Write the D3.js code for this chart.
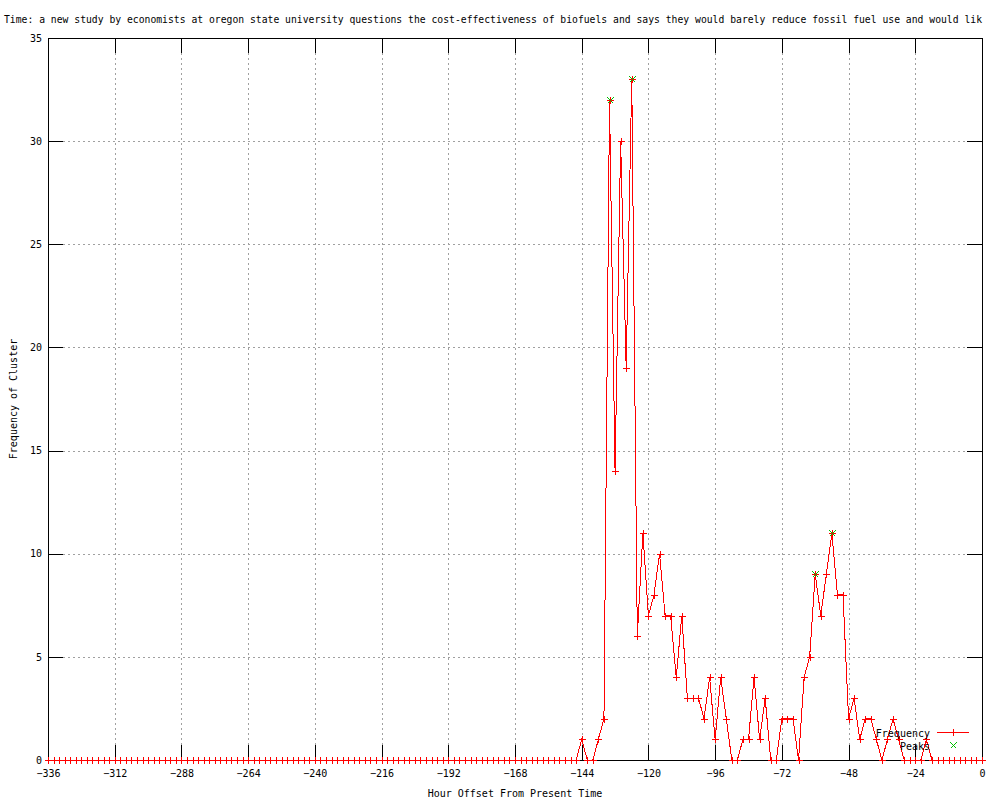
<!DOCTYPE html>
<html>
<head>
<meta charset="utf-8">
<script src="https://cdn.jsdelivr.net/npm/d3@7"></script>
<style>
  html, body { margin: 0; padding: 0; background: #fff; }
  svg { display: block; font-family: "DejaVu Sans Mono", "Liberation Mono", monospace; }
  text { font-size: 10px; fill: #000; }
</style>
</head>
<body>
<svg id="chart" width="1000" height="800"></svg>
<script>
// ---------------- data ----------------
const titleText = "Time: a new study by economists at oregon state university questions the cost-effectiveness of biofuels and says they would barely reduce fossil fuel use and would lik";
const xLabel = "Hour Offset From Present Time";
const yLabel = "Frequency of Cluster";

// hours: every 2 hours from -336 to 0
const hours = d3.range(-336, 1, 2);
const frequency = [
  // -336 .. -146 (96 points)
  0,0,0,0,0,0,0,0,0,0,0,0,0,0,0,0,0,0,0,0,0,0,0,0,
  0,0,0,0,0,0,0,0,0,0,0,0,0,0,0,0,0,0,0,0,0,0,0,0,
  0,0,0,0,0,0,0,0,0,0,0,0,0,0,0,0,0,0,0,0,0,0,0,0,
  0,0,0,0,0,0,0,0,0,0,0,0,0,0,0,0,0,0,0,0,0,0,0,0,
  // -144 .. 0
  1,0,0,1,2,32,14,30,19,33,
  6,11,7,8,10,7,7,4,7,3,
  3,3,2,4,1,4,2,0,0,1,
  1,4,1,3,0,0,2,2,2,0,
  4,5,9,7,9,11,8,8,2,3,
  1,2,2,1,0,1,2,1,0,0,
  0,0,1,0,0,0,0,0,0,0,
  0,0,0
];
const peakHours  = [-134, -126, -60, -54];
const peakValues = [32, 33, 9, 11];

const xTicks = [-336,-312,-288,-264,-240,-216,-192,-168,-144,-120,-96,-72,-48,-24,0];
const yTicks = [0,5,10,15,20,25,30,35];

const seriesNames = ["Frequency", "Peaks"];
const red = "#ff0000", green = "#00c000";

// ---------------- layout ----------------
const L = 48, R = 982, T = 38, B = 760;
const svg = d3.select("#chart");

const x = d3.scaleLinear().domain([-336, 0]).range([L, R]);
const y = d3.scaleLinear().domain([0, 35]).range([B, T]);

const data = hours.map((h, i) => ({h, v: frequency[i]}));
const peaks = peakHours.map((h, i) => ({h, v: peakValues[i]}));

// title
svg.append("text").attr("x", 4).attr("y", 23)
  .attr("font-size", 9.6).attr("textLength", 978).attr("lengthAdjust", "spacingAndGlyphs")
  .text(titleText);

// grid
const gridX = svg.append("g").attr("transform", `translate(0,${B})`)
  .call(d3.axisBottom(x).tickValues(xTicks).tickSize(-(B - T)).tickFormat(""));
const gridY = svg.append("g").attr("transform", `translate(${L},0)`)
  .call(d3.axisLeft(y).tickValues(yTicks).tickSize(-(R - L)).tickFormat(""));
[gridX, gridY].forEach(g => {
  g.select(".domain").remove();
  g.selectAll(".tick line")
    .attr("stroke", "#a0a0a0")
    .attr("stroke-dasharray", "2,3")
    .attr("shape-rendering", "crispEdges");
});

// border
svg.append("rect").attr("x", L).attr("y", T).attr("width", R - L).attr("height", B - T)
  .attr("fill", "none").attr("stroke", "#000").attr("shape-rendering", "crispEdges");

const TL = 15;
// bottom axis (ticks inward)
const ax = svg.append("g").attr("transform", `translate(0,${B})`)
  .call(d3.axisBottom(x).tickValues(xTicks).tickSizeInner(-TL).tickSizeOuter(0).tickPadding(9.5).tickFormat(d3.format("d")));
// top mirror ticks
const axT = svg.append("g").attr("transform", `translate(0,${T})`)
  .call(d3.axisTop(x).tickValues(xTicks).tickSizeInner(-TL).tickSizeOuter(0).tickFormat(""));
// left axis
const ay = svg.append("g").attr("transform", `translate(${L},0)`)
  .call(d3.axisLeft(y).tickValues(yTicks).tickSizeInner(-TL).tickSizeOuter(0).tickPadding(6).tickFormat(d3.format("d")));
// right mirror ticks
const ayR = svg.append("g").attr("transform", `translate(${R},0)`)
  .call(d3.axisRight(y).tickValues(yTicks).tickSizeInner(-TL).tickSizeOuter(0).tickFormat(""));
[ax, axT, ay, ayR].forEach(g => {
  g.select(".domain").remove();
  g.selectAll(".tick line").attr("stroke", "#000").attr("shape-rendering", "crispEdges");
  g.selectAll(".tick text").attr("font-family", "DejaVu Sans Mono").attr("font-size", 10).attr("fill", "#000");
});

// axis labels
svg.append("text").attr("x", (L + R) / 2).attr("y", 797).attr("text-anchor", "middle").text(xLabel);
svg.append("text").attr("transform", `translate(17,${(T + B) / 2}) rotate(-90)`)
  .attr("text-anchor", "middle").text(yLabel);

// series line
const line = d3.line().x(d => x(d.h)).y(d => y(d.v));
svg.append("path").datum(data).attr("d", line)
  .attr("fill", "none").attr("stroke", red).attr("stroke-width", 1)
  .attr("shape-rendering", "crispEdges");

// plus markers
const plus = (cx, cy, s) => `M${cx - s},${cy}H${cx + s}M${cx},${cy - s}V${cy + s}`;
const cross = (cx, cy, s) => `M${cx - s},${cy - s}L${cx + s},${cy + s}M${cx - s},${cy + s}L${cx + s},${cy - s}`;
const snap = v => Math.round(v) + 0.5;

svg.append("g").selectAll("path").data(data).join("path")
  .attr("d", d => plus(snap(x(d.h)), snap(y(d.v)), 3.5))
  .attr("stroke", red).attr("fill", "none").attr("shape-rendering", "crispEdges");

// peak markers
svg.append("g").selectAll("path").data(peaks).join("path")
  .attr("d", d => cross(snap(x(d.h)), snap(y(d.v)), 3))
  .attr("stroke", green).attr("fill", "none").attr("shape-rendering", "crispEdges");

// legend
const lg = svg.append("g");
lg.append("text").attr("x", 930).attr("y", 736.5).attr("text-anchor", "end").text(seriesNames[0]);
lg.append("path").attr("d", `M937,732.5H969`).attr("stroke", red).attr("shape-rendering", "crispEdges");
lg.append("path").attr("d", plus(953.5, 732.5, 3.5)).attr("stroke", red).attr("fill", "none").attr("shape-rendering", "crispEdges");
lg.append("text").attr("x", 930).attr("y", 749.5).attr("text-anchor", "end").text(seriesNames[1]);
lg.append("path").attr("d", cross(953.5, 745.5, 3)).attr("stroke", green).attr("fill", "none").attr("shape-rendering", "crispEdges");
</script>
</body>
</html>
